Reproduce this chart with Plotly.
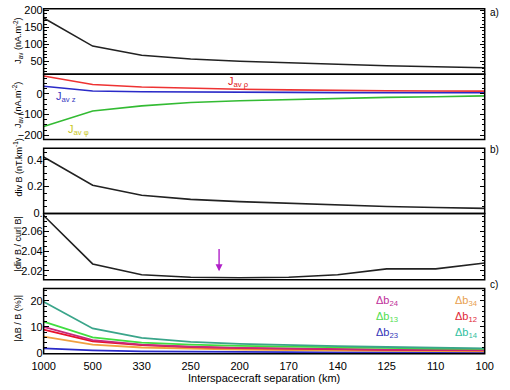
import plotly.graph_objects as go

W, H = 510, 390

# ---- data ----
sep_labels = ["1000", "500", "330", "250", "200", "170", "140", "125", "110", "100"]

j_av = [178, 95, 68, 57, 50, 45, 40, 37, 34, 31]
j_rho = [86, 45, 33, 26, 22, 19, 16, 15, 14, 13]
j_z = [37, 14, 10, 8, 7, 7, 6, 6, 6, 6]
j_phi = [-158, -83, -58, -42, -33, -27, -22, -17, -14, -10]

div_b = [0.42, 0.21, 0.135, 0.105, 0.088, 0.075, 0.062, 0.052, 0.045, 0.038]
div_curl = [2.076, 2.027, 2.016, 2.0135, 2.013, 2.0135, 2.016, 2.022, 2.022, 2.028]

db14 = [19.6, 9.4, 5.8, 4.3, 3.5, 3.0, 2.6, 2.3, 2.0, 1.8]
db13 = [12.0, 6.0, 4.0, 3.2, 2.7, 2.4, 2.1, 1.9, 1.7, 1.6]
db24 = [10.0, 4.9, 3.2, 2.4, 2.0, 1.7, 1.5, 1.3, 1.2, 1.1]
db12 = [9.0, 4.5, 3.0, 2.3, 1.9, 1.6, 1.4, 1.2, 1.1, 1.0]
db34 = [6.3, 3.2, 2.1, 1.6, 1.3, 1.1, 0.9, 0.8, 0.7, 0.6]
db23 = [1.8, 1.0, 0.6, 0.45, 0.35, 0.3, 0.25, 0.2, 0.2, 0.2]

arrow_x = 3.58          # category index position of the arrow
arrow_y0, arrow_y1 = 2.0435, 2.0195

FONT = "Liberation Sans, Arial, sans-serif"

def py(p):  # pixel from top -> paper y
    return 1 - p / H

def px(p):
    return p / W

xd = [px(33), px(493)]
ypix = [(5, 72), (72, 139), (148, 215), (215, 283), (292, 359)]
ydoms = [[py(b), py(t)] for t, b in ypix]

fig = go.Figure()

def add(i, y, color, width=1.6):
    fig.add_trace(go.Scatter(
        x=sep_labels, y=y, mode="lines",
        line=dict(color=color, width=width),
        xaxis="x" if i == 1 else f"x{i}",
        yaxis="y" if i == 1 else f"y{i}",
        showlegend=False, hoverinfo="skip"))

add(1, j_av, "#222222")
add(2, j_phi, "#33bb33")
add(2, j_z, "#2a2ac8")
add(2, j_rho, "#ee3333")
add(3, div_b, "#222222")
add(4, div_curl, "#222222")
add(5, db23, "#2a2ac8", 1.8)
add(5, db34, "#f0a040", 1.8)
add(5, db12, "#e8102a", 1.8)
add(5, db24, "#c8287a", 1.8)
add(5, db13, "#40dd40", 1.8)
add(5, db14, "#3aa58a", 1.8)

yspecs = [
    dict(range=[12, 205], tickvals=[50, 100, 150, 200], minor=10),
    dict(range=[-220, 95], tickvals=[-200, -100, 0], minor=25),
    dict(range=[0, 0.485], tickvals=[0, 0.2, 0.4], ticktext=["0.", "0.2", "0.4"], minor=0.05),
    dict(range=[2.011, 2.078], tickvals=[2.02, 2.04, 2.06], ticktext=["2.02", "2.04", "2.06"], minor=0.005),
    dict(range=[-0.3, 24.7], tickvals=[0, 10, 20], minor=2),
]

layout = dict(
    width=W, height=H,
    margin=dict(l=0, r=0, t=0, b=0),
    paper_bgcolor="white", plot_bgcolor="white",
    font=dict(family=FONT, size=11, color="black"),
    showlegend=False,
)

for i in range(1, 6):
    xn = "xaxis" if i == 1 else f"xaxis{i}"
    yn = "yaxis" if i == 1 else f"yaxis{i}"
    xa = dict(
        domain=xd, anchor="y" if i == 1 else f"y{i}",
        type="category", categoryorder="array", categoryarray=sep_labels,
        range=[0, 9], showline=False,
        ticks="", showgrid=False, zeroline=False,
        showticklabels=(i == 5), tickfont=dict(size=11, family=FONT),
    )
    if i != 1:
        xa["matches"] = "x"
    if i == 5:
        xa["ticklabelstandoff"] = 4
        xa["title"] = dict(text="Interspacecraft separation (km)", font=dict(size=11, family=FONT), standoff=0)
    s = yspecs[i - 1]
    ya = dict(
        domain=ydoms[i - 1], anchor="x" if i == 1 else f"x{i}",
        range=s["range"], tickvals=s["tickvals"],
        showline=False, mirror="allticks",
        ticks="inside", ticklen=5, tickcolor="black", showgrid=False, zeroline=False,
        tickfont=dict(size=11, family=FONT),
        minor=dict(ticks="inside", ticklen=3, dtick=s["minor"], tick0=0, tickcolor="black", showgrid=False),
    )
    if "ticktext" in s:
        ya["ticktext"] = s["ticktext"]
    layout[xn] = xa
    layout[yn] = ya

fig.update_layout(**layout)

shapes = []
for t, b in ypix:
    shapes.append(dict(type="rect", xref="paper", yref="paper", x0=xd[0], x1=xd[1],
                       y0=py(b), y1=py(t), line=dict(color="black", width=1.5),
                       fillcolor="rgba(0,0,0,0)", layer="above"))
fig.update_layout(shapes=shapes)

anns = []
# y-axis titles
for txt, ycen in [
    ("J<sub>av</sub> (nA.m<sup>-2</sup>)", 38),
    ("J<sub>av</sub> (nA.m<sup>-2</sup>)", 104),
    ("div B (nT.km<sup>-1</sup>)", 168),
    ("|div B / curl B|", 246),
    ("|ΔB / B (%)|", 322),
]:
    anns.append(dict(text=txt, x=px(6), y=py(ycen), xref="paper", yref="paper",
                     textangle=-90, showarrow=False, font=dict(size=9, family=FONT),
                     xanchor="center", yanchor="middle"))
# panel letters
for txt, yp in [("a)", 1), ("b)", 142), ("c)", 280)]:
    anns.append(dict(text=txt, x=px(496), y=py(yp), xref="paper", yref="paper",
                     xanchor="left", yanchor="top", showarrow=False, font=dict(size=10, family=FONT)))
# J labels (top-anchored)
anns.append(dict(text="J<sub>av z</sub>", x=px(44), y=py(86), xref="paper", yref="paper",
                 xanchor="left", yanchor="top", showarrow=False, font=dict(size=11, color="#3a3ac0", family=FONT)))
anns.append(dict(text="J<sub>av φ</sub>", x=px(56), y=py(120), xref="paper", yref="paper",
                 xanchor="left", yanchor="top", showarrow=False, font=dict(size=11, color="#c8c820", family=FONT)))
anns.append(dict(text="J<sub>av ρ</sub>", x=px(223), y=py(71), xref="paper", yref="paper",
                 xanchor="left", yanchor="top", showarrow=False, font=dict(size=11, color="#e02020", family=FONT)))
# delta b labels
for txt, col, xx, yy in [
    ("Δb<sub>24</sub>", "#c0309a", 378, 296),
    ("Δb<sub>34</sub>", "#e8a050", 460, 296),
    ("Δb<sub>13</sub>", "#50dd50", 378, 312),
    ("Δb<sub>12</sub>", "#e02838", 460, 312),
    ("Δb<sub>23</sub>", "#3434b8", 378, 328),
    ("Δb<sub>14</sub>", "#30c0a0", 460, 328),
]:
    anns.append(dict(text=txt, x=px(xx), y=py(yy), xref="paper", yref="paper",
                     xanchor="left", yanchor="top",
                     showarrow=False, font=dict(size=11, color=col, family=FONT)))
# arrow
anns.append(dict(x=arrow_x, y=arrow_y1, ax=arrow_x, ay=arrow_y0, xref="x4", yref="y4",
                 axref="x4", ayref="y4", text="", showarrow=True, arrowhead=2,
                 arrowsize=1, arrowwidth=1.4, arrowcolor="#b020c8"))

fig.update_layout(annotations=anns)
fig.write_html("out.html")
